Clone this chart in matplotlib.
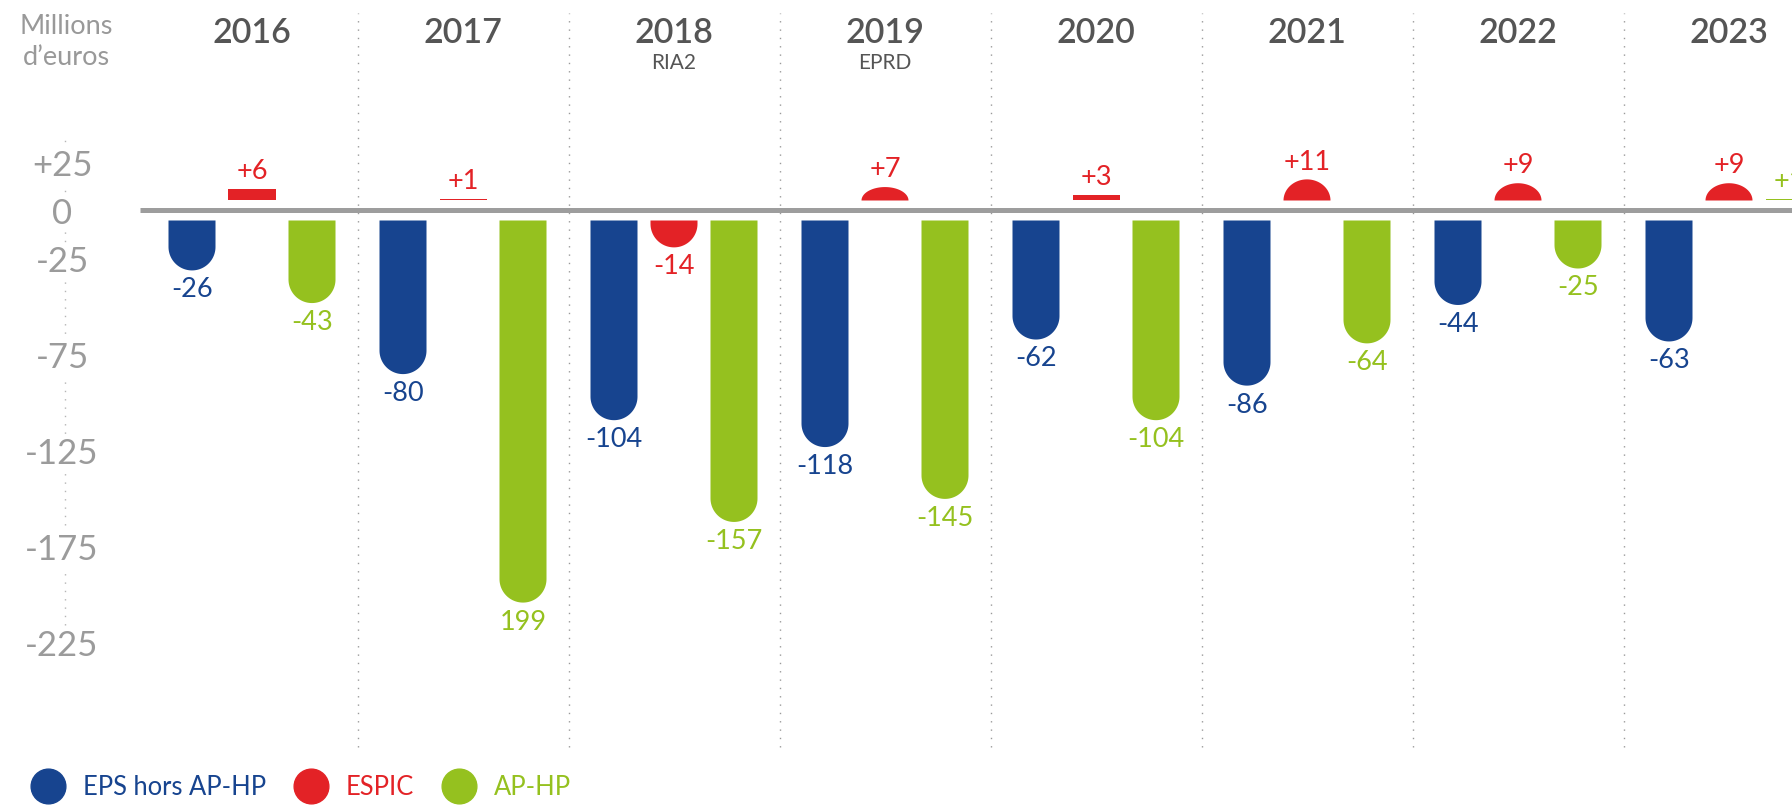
import numpy as np
import matplotlib.pyplot as plt
from matplotlib.patches import Polygon
from matplotlib.lines import Line2D

plt.rcParams['font.family'] = ['Lato', 'DejaVu Sans']

# data (millions d'euros)
years = ['2016', '2017', '2018', '2019', '2020', '2021', '2022', '2023']
subtitles = ['', '', 'RIA2', 'EPRD', '', '', '', '']
eps = [-26, -80, -104, -118, -62, -86, -44, -63]
espic = [6, 1, -14, 7, 3, 11, 9, 9]
aphp = [-43, -199, -157, -145, -104, -64, -25, 1]
series_names = ['EPS hors AP-HP', 'ESPIC', 'AP-HP']
colors = ['#17448f', '#e32226', '#95c11f']
yticks = [25, 0, -25, -75, -125, -175, -225]
ytick_labels = ['+25', '0', '-25', '-75', '-125', '-175', '-225']


def fmt(v):
    return f'+{v}' if v > 0 else str(v)


eps_labels = [fmt(v) for v in eps]
espic_labels = [fmt(v) for v in espic]
aphp_labels = [fmt(v) for v in aphp]
aphp_labels[1] = '199'  # printed without the sign in the source

# layout in pixels
W, H = 1792, 805
PX_X = 211.0      # px per year
X0 = 252.0        # px of the first year
PX_Y = 1.92       # px per million
Y0 = 210.5        # px of the zero line
BAR_W = 47 / PX_X
OFFSET = 60 / PX_X
GAP = 10 / PX_Y
R_PX = 23.5

fig = plt.figure(figsize=(W / 100, H / 100), dpi=100)
ax = fig.add_axes([0, 0, 1, 1])
ax.set_xlim(-X0 / PX_X, (W - X0) / PX_X)
ax.set_ylim(-(H - Y0) / PX_Y, Y0 / PX_Y)
for s in ax.spines.values():
    s.set_visible(False)
ax.set_xticks([])


def rounded_bar(xc, v, color):
    # bar starting a little off the zero line, round end when long enough
    hw = BAR_W / 2
    sign = 1 if v > 0 else -1
    start = sign * GAP
    end = start + v
    length_px = abs(v) * PX_Y
    if length_px > R_PX / 2:
        ry = min(R_PX, length_px) / PX_Y
        body_end = end - sign * ry
        t = np.linspace(0, np.pi, 60)
        xs = np.concatenate([[xc - hw, xc + hw], xc + hw * np.cos(t)])
        ys = np.concatenate([[start, start], body_end + sign * ry * np.sin(t)])
    else:
        xs = [xc - hw, xc + hw, xc + hw, xc - hw]
        ys = [start, start, end, end]
    ax.add_patch(Polygon(np.column_stack([xs, ys]), closed=True,
                         facecolor=color, edgecolor='none', zorder=3))
    return end, sign


x = np.arange(len(years))
all_series = [(eps, eps_labels), (espic, espic_labels), (aphp, aphp_labels)]
for k, (vals, labs) in enumerate(all_series):
    for i, (v, lab) in enumerate(zip(vals, labs)):
        xc = x[i] + (k - 1) * OFFSET
        end, sign = rounded_bar(xc, v, colors[k])
        if sign > 0:
            ax.annotate(lab, (xc, end), xytext=(0, 7), textcoords='offset points',
                        ha='center', va='baseline', fontsize=19.5,
                        color=colors[k], zorder=4)
        else:
            ax.annotate(lab, (xc, end), xytext=(0, -5), textcoords='offset points',
                        ha='center', va='top', fontsize=19.5,
                        color=colors[k], zorder=4)

# zero line
ax.hlines(0, -0.53, len(years), color='#9d9d9d', lw=3.6, zorder=2)

# year separators
for i in range(len(years)):
    ax.axvline(i + 0.5, ymin=1 - 747 / H, ymax=1 - 13 / H, color='#9a9a9a',
               lw=1, linestyle=(0, (1, 5)), zorder=1)

# y axis (dotted, broken by the labels)
axis_x = (65 - X0) / PX_X
ax.vlines(axis_x, -229, 38, color='#b5b5b5', lw=1, linestyle=(0, (1, 5)), zorder=1)
ax.set_yticks(yticks, labels=ytick_labels)
ax.tick_params(axis='y', length=0, pad=-62 * 0.72, labelsize=25,
               labelcolor='#9b9b9b')
for lab in ax.get_yticklabels():
    lab.set_ha('center')
    lab.set_bbox(dict(facecolor='white', edgecolor='none', pad=2))

# year headers
trans = ax.get_xaxis_transform()
for i, (yr, sub) in enumerate(zip(years, subtitles)):
    ax.text(x[i], 1 - 33 / H, yr, transform=trans, ha='center', va='center',
            fontsize=24.5, color='#555555', fontweight='semibold')
    if sub:
        ax.text(x[i], 1 - 63 / H, sub, transform=trans, ha='center',
                va='center', fontsize=15, color='#555555')

fig.text(66 / W, 1 - 42 / H, 'Millions\nd\u2019euros', ha='center', va='center',
         fontsize=19.5, color='#999999', linespacing=1.3)

# legend
handles = [Line2D([], [], marker='o', linestyle='none', markersize=25,
                  markerfacecolor=c, markeredgecolor=c) for c in colors]
fig.legend(handles, series_names, loc='center left',
           bbox_to_anchor=(22.5 / W, 1 - 787 / H), ncol=3, frameon=False,
           fontsize=18.4, handlelength=2.0, handletextpad=0.37,
           columnspacing=0.75, borderpad=0, borderaxespad=0,
           labelcolor='markerfacecolor')

fig.savefig('out.png', dpi=100)
